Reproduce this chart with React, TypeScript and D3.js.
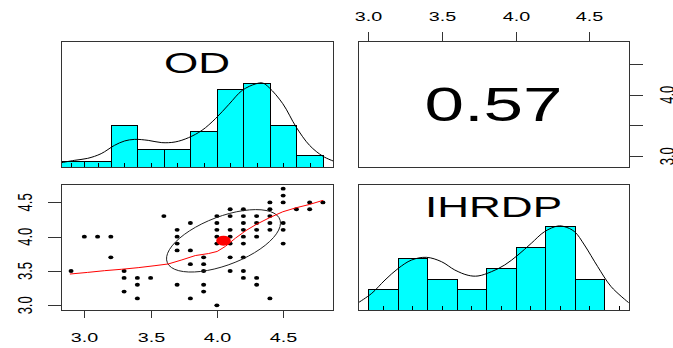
import React from 'react';
import * as d3 from 'd3';

const W = 673;
const H = 348;
const SX = 1.52;
const FONT = "'Liberation Sans', Arial, Helvetica, sans-serif";

const VAR_NAMES = ['OD', 'IHRDP'];
const CORR_TEXT = '0.57';
const CORR_R = 0.57;

// scatter data (OD on x, IHRDP on y)
const SCATTER_OD = [
  2.9, 3.0, 3.1, 3.2, 3.2, 3.3, 3.3, 3.3, 3.4, 3.4, 3.4, 3.5, 3.6,
  3.7, 3.7, 3.7, 3.7, 3.7, 3.8, 3.8, 3.8, 3.8, 3.9, 3.9, 3.9, 3.9, 3.9,
  4.0, 4.0, 4.0, 4.0, 4.0, 4.0, 4.1, 4.1, 4.1, 4.1, 4.1, 4.1, 4.1,
  4.2, 4.2, 4.2, 4.2, 4.2, 4.2, 4.2, 4.2, 4.2, 4.3, 4.3, 4.3, 4.3, 4.3, 4.3,
  4.4, 4.4, 4.4, 4.4, 4.4, 4.4, 4.5, 4.5, 4.5, 4.5, 4.5, 4.5, 4.6, 4.7, 4.7, 4.8,
];
const SCATTER_IHRDP = [
  3.5, 4.0, 4.0, 4.0, 3.7, 3.5, 3.4, 3.2, 3.4, 3.3, 3.1, 3.4, 4.3,
  4.1, 4.0, 3.9, 3.8, 3.3, 4.2, 3.8, 3.6, 3.1, 3.7, 3.6, 3.5, 3.3, 3.2,
  4.3, 4.2, 4.1, 4.0, 3.9, 3.0, 4.4, 4.3, 4.1, 4.0, 3.9, 3.7, 3.5,
  4.4, 4.3, 4.2, 4.1, 4.0, 3.9, 3.7, 3.5, 3.4, 4.3, 4.2, 4.1, 4.0, 3.4, 3.3,
  4.5, 4.4, 4.3, 4.2, 4.1, 3.1, 4.7, 4.6, 4.5, 4.2, 4.1, 3.9, 4.4, 4.5, 4.4, 4.5,
];

// summary statistics
const MEAN_OD = 4.05;
const MEAN_IHRDP = 3.94;
const SD_OD = 0.43;
const SD_IHRDP = 0.455;

// histograms
const OD_BREAKS = [2.8, 3.0, 3.2, 3.4, 3.6, 3.8, 4.0, 4.2, 4.4, 4.6, 4.8];
const OD_COUNTS = [1, 1, 7, 3, 3, 6, 13, 14, 7, 2];
const IHRDP_BREAKS = [3.0, 3.2, 3.4, 3.6, 3.8, 4.0, 4.2, 4.4, 4.6, 4.8];
const IHRDP_COUNTS = [2, 5, 3, 2, 4, 6, 8, 3, 0];

// density curves (normalised to max 1)
const OD_DENS_X = [2.817, 2.924, 3.025, 3.127, 3.228, 3.304, 3.38, 3.482, 3.584, 3.685, 3.786, 3.888, 3.989, 4.091, 4.192, 4.294, 4.345, 4.395, 4.497, 4.598, 4.699, 4.801, 4.885];
const OD_DENS_Y = [0.048, 0.079, 0.103, 0.159, 0.258, 0.31, 0.329, 0.317, 0.29, 0.298, 0.349, 0.437, 0.575, 0.746, 0.913, 0.99, 1.0, 0.944, 0.754, 0.476, 0.258, 0.127, 0.067];
const IH_DENS_X = [2.934, 3.025, 3.115, 3.205, 3.295, 3.396, 3.498, 3.588, 3.678, 3.745, 3.836, 3.926, 4.016, 4.106, 4.196, 4.286, 4.331, 4.399, 4.466, 4.556, 4.647, 4.766];
const IH_DENS_Y = [0.087, 0.198, 0.357, 0.496, 0.595, 0.627, 0.575, 0.476, 0.413, 0.405, 0.456, 0.536, 0.655, 0.794, 0.933, 1.0, 0.992, 0.933, 0.774, 0.516, 0.278, 0.087];

// loess smooth
const LOESS_X = [2.891, 3.025, 3.152, 3.279, 3.406, 3.533, 3.634, 3.736, 3.837, 3.938, 4.002, 4.065, 4.141, 4.218, 4.294, 4.395, 4.497, 4.598, 4.699, 4.801];
const LOESS_Y = [3.456, 3.48, 3.505, 3.525, 3.549, 3.578, 3.603, 3.662, 3.725, 3.755, 3.785, 3.86, 3.98, 4.088, 4.176, 4.275, 4.363, 4.422, 4.47, 4.53];

const AXIS_TICKS = [3.0, 3.5, 4.0, 4.5];
const RIGHT_AXIS_LABELS = [3.0, 4.0];

// layout
const COLS: [number, number][] = [[61, 333], [358, 629]];
const ROWS: [number, number][] = [[41, 167], [184, 310]];

function extDomain(vals: number[]): [number, number] {
  const [a, b] = d3.extent(vals) as [number, number];
  const e = (b - a) * 0.04;
  return [a - e, b + e];
}

const odDom = extDomain(SCATTER_OD);
const ihDom = extDomain(SCATTER_IHRDP);

const odX = d3.scaleLinear().domain(odDom).range(COLS[0]);
const ihX = d3.scaleLinear().domain(ihDom).range(COLS[1]);
const odY = d3.scaleLinear().domain(odDom).range([ROWS[0][1], ROWS[0][0]]);
const ihY = d3.scaleLinear().domain(ihDom).range([ROWS[1][1], ROWS[1][0]]);

const fmt = d3.format('.1f');

function HistPanel(props: {
  id: string; col: [number, number]; row: [number, number];
  xs: d3.ScaleLinear<number, number>; breaks: number[]; counts: number[];
  dx: number[]; dy: number[]; label: string; labelBase: number;
}) {
  const { id, col, row, xs, breaks, counts, dx, dy, label, labelBase } = props;
  const ys = d3.scaleLinear().domain([0, 1.5]).range([row[1], row[0]]);
  const mx = d3.max(counts) as number;
  const line = d3.line<number>().x((_, i) => xs(dx[i])).y((_, i) => ys(dy[i])).curve(d3.curveCatmullRom);
  const cx = (col[0] + col[1]) / 2;
  return (
    <g>
      <clipPath id={id}><rect x={col[0]} y={row[0]} width={col[1] - col[0]} height={row[1] - row[0]} /></clipPath>
      <g clipPath={`url(#${id})`}>
        {counts.map((c, i) => c > 0 ? (
          <rect key={i} x={Math.round(xs(breaks[i])) + 0.5} y={Math.round(ys(c / mx)) + 0.5}
            width={Math.round(xs(breaks[i + 1])) - Math.round(xs(breaks[i]))}
            height={Math.round(ys(0)) - Math.round(ys(c / mx))}
            fill="#00FFFF" stroke="#000" strokeWidth={1} />
        ) : null)}
        {counts.map((_, i) => {
          const m = Math.round(xs((breaks[i] + breaks[i + 1]) / 2)) + 0.5;
          return <line key={'t' + i} x1={m} x2={m} y1={row[1]} y2={row[1] - 4} stroke="#000" strokeWidth={1} />;
        })}
        <path d={line(dx) as string} fill="none" stroke="#000" strokeWidth={1} />
      </g>
      <text transform={`translate(${cx},${labelBase}) scale(${SX},1)`} textAnchor="middle"
        fontFamily={FONT} fontSize={29} fill="#000">{label}</text>
    </g>
  );
}

export default function App() {
  const ellipse: [number, number][] = [];
  const seg = 51;
  const th = 1 / Math.sqrt(2);
  const a = Math.sqrt(1 + CORR_R), b = Math.sqrt(1 - CORR_R);
  for (let k = 0; k <= seg; k++) {
    const t = (k * 2 * Math.PI) / seg;
    const c = Math.cos(t), s = Math.sin(t);
    const ex = c * a * th - s * b * th;
    const ey = c * a * th + s * b * th;
    ellipse.push([MEAN_OD + ex * SD_OD, MEAN_IHRDP + ey * SD_IHRDP]);
  }
  const ellLine = d3.line<[number, number]>().x(d => odX(d[0])).y(d => ihY(d[1]));
  const loess = d3.line<number>().x((_, i) => odX(LOESS_X[i])).y((_, i) => ihY(LOESS_Y[i]));

  const box = (col: [number, number], row: [number, number]) => (
    <rect x={col[0] + 0.5} y={row[0] + 0.5} width={col[1] - col[0]} height={row[1] - row[0]}
      fill="none" stroke="#333" strokeWidth={1} />
  );

  return (
    <svg width={W} height={H} style={{ position: 'absolute', left: 0, top: 0, background: '#fff' }}
      xmlns="http://www.w3.org/2000/svg">
      <rect x={0} y={0} width={W} height={H} fill="#fff" />

      {/* top-left: OD histogram */}
      <HistPanel id="c1" col={COLS[0]} row={ROWS[0]} xs={odX} breaks={OD_BREAKS} counts={OD_COUNTS}
        dx={OD_DENS_X} dy={OD_DENS_Y} label={VAR_NAMES[0]} labelBase={73} />
      {box(COLS[0], ROWS[0])}

      {/* top-right: correlation */}
      <text transform={`translate(${(COLS[1][0] + COLS[1][1]) / 2},${(ROWS[0][0] + ROWS[0][1]) / 2 + 17}) scale(1.48,1)`}
        textAnchor="middle" fontFamily={FONT} fontSize={48} fill="#000">{CORR_TEXT}</text>
      {box(COLS[1], ROWS[0])}
      {/* top axis (IHRDP) */}
      {AXIS_TICKS.map(t => {
        const x = Math.round(ihX(t)) + 0.5;
        return (
          <g key={'ta' + t}>
            <line x1={x} x2={x} y1={ROWS[0][0]} y2={ROWS[0][0] - 9} stroke="#333" />
            <text transform={`translate(${x},21) scale(${SX},1)`} textAnchor="middle" fontFamily={FONT}
              fontSize={13} fill="#000">{fmt(t)}</text>
          </g>
        );
      })}
      {/* right axis (OD) */}
      {AXIS_TICKS.map(t => {
        const y = Math.round(odY(t)) + 0.5;
        return <line key={'ra' + t} x1={COLS[1][1]} x2={COLS[1][1] + 14} y1={y} y2={y} stroke="#333" />;
      })}
      {RIGHT_AXIS_LABELS.map(t => (
        <text key={'rl' + t} transform={`translate(674,${odY(t)}) scale(${SX},1) rotate(-90)`} textAnchor="middle"
          fontFamily={FONT} fontSize={13} fill="#000">{fmt(t)}</text>
      ))}

      {/* bottom-left: scatter */}
      <clipPath id="c3"><rect x={COLS[0][0]} y={ROWS[1][0]} width={COLS[0][1] - COLS[0][0]} height={ROWS[1][1] - ROWS[1][0]} /></clipPath>
      <g clipPath="url(#c3)">
        {SCATTER_OD.map((v, i) => (
          <ellipse key={'p' + i} cx={odX(v)} cy={ihY(SCATTER_IHRDP[i])} rx={2.5} ry={1.9} fill="#000" />
        ))}
        <path d={ellLine(ellipse) as string} fill="none" stroke="#222" strokeWidth={1} />
        <path d={loess(LOESS_X) as string} fill="none" stroke="#ff0000" strokeWidth={1} />
        <ellipse cx={odX(MEAN_OD)} cy={ihY(MEAN_IHRDP)} rx={7.3} ry={5} fill="#ff0000" />
      </g>
      {box(COLS[0], ROWS[1])}
      {/* left axis (IHRDP) */}
      {AXIS_TICKS.map(t => {
        const y = Math.round(ihY(t)) + 0.5;
        return (
          <g key={'la' + t}>
            <line x1={COLS[0][0]} x2={COLS[0][0] - 13} y1={y} y2={y} stroke="#333" />
            <text transform={`translate(32,${ihY(t)}) scale(${SX},1) rotate(-90)`} textAnchor="middle"
              fontFamily={FONT} fontSize={13} fill="#000">{fmt(t)}</text>
          </g>
        );
      })}
      {/* bottom axis (OD) */}
      {AXIS_TICKS.map(t => {
        const x = Math.round(odX(t)) + 0.5;
        return (
          <g key={'ba' + t}>
            <line x1={x} x2={x} y1={ROWS[1][1]} y2={ROWS[1][1] + 8} stroke="#333" />
            <text transform={`translate(${x},342) scale(${SX},1)`} textAnchor="middle" fontFamily={FONT}
              fontSize={13} fill="#000">{fmt(t)}</text>
          </g>
        );
      })}

      {/* bottom-right: IHRDP histogram */}
      <HistPanel id="c4" col={COLS[1]} row={ROWS[1]} xs={ihX} breaks={IHRDP_BREAKS} counts={IHRDP_COUNTS}
        dx={IH_DENS_X} dy={IH_DENS_Y} label={VAR_NAMES[1]} labelBase={216.5} />
      {box(COLS[1], ROWS[1])}
    </svg>
  );
}
